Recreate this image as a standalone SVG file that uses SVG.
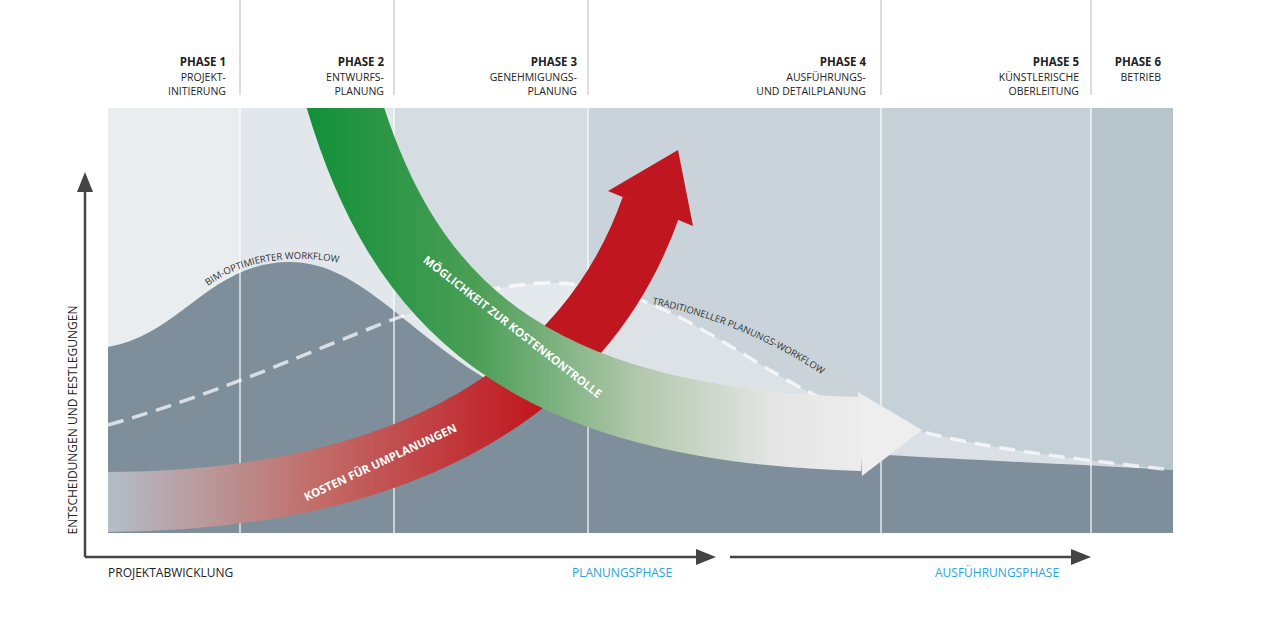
<svg xmlns="http://www.w3.org/2000/svg" width="1280" height="640" viewBox="0 0 1280 640">
<style>
text{font-family:"Open Sans","Liberation Sans",sans-serif;fill:#222}
.ph{font-size:11.5px;font-weight:bold;text-anchor:end}
.sub{font-size:10.5px;text-anchor:end}
.sm{font-size:9.5px;fill:#333}
.ax{font-size:12px}
.bl{font-size:12px;fill:#2aa4dc}
.wt{font-size:11.5px;font-weight:bold;fill:#fff}
.sep{stroke:#bbb;stroke-width:1}
.csep{stroke:#fff;stroke-width:1.5;opacity:.8}
.axis{stroke:#444;stroke-width:2.5;fill:none}
</style>
<defs>
<linearGradient id="gg" gradientUnits="userSpaceOnUse" x1="310" y1="0" x2="860" y2="0">
<stop offset="0" stop-color="#12903a"/><stop offset="0.3" stop-color="#4a9e55"/><stop offset="0.6" stop-color="#b3c8ad"/><stop offset="0.85" stop-color="#e6e6e6"/><stop offset="1" stop-color="#ececec"/></linearGradient>
<linearGradient id="rg" gradientUnits="userSpaceOnUse" x1="108" y1="0" x2="540" y2="0">
<stop offset="0" stop-color="#b3bec7"/><stop offset="0.5" stop-color="#c26a66"/><stop offset="1" stop-color="#c0161f"/></linearGradient>
<clipPath id="ch"><rect x="108" y="108" width="1065" height="425"/></clipPath>
<path id="bimp" d="M208,286 C240,262 290,252 345,264"/>
<path id="trp" d="M652,304 C720,318 780,345 830,380"/>
</defs>
<g id="headers">
<line class="sep" x1="240" y1="0" x2="240" y2="95"/><line class="sep" x1="394" y1="0" x2="394" y2="95"/><line class="sep" x1="588" y1="0" x2="588" y2="95"/><line class="sep" x1="881" y1="0" x2="881" y2="95"/><line class="sep" x1="1091" y1="0" x2="1091" y2="95"/>
<text class="ph" x="226" y="66">PHASE 1</text><text class="sub" x="226" y="81">PROJEKT-</text><text class="sub" x="226" y="95">INITIERUNG</text>
<text class="ph" x="384" y="66">PHASE 2</text><text class="sub" x="384" y="81">ENTWURFS-</text><text class="sub" x="384" y="95">PLANUNG</text>
<text class="ph" x="577" y="66">PHASE 3</text><text class="sub" x="577" y="81">GENEHMIGUNGS-</text><text class="sub" x="577" y="95">PLANUNG</text>
<text class="ph" x="866" y="66">PHASE 4</text><text class="sub" x="866" y="81">AUSFÜHRUNGS-</text><text class="sub" x="866" y="95">UND DETAILPLANUNG</text>
<text class="ph" x="1079" y="66">PHASE 5</text><text class="sub" x="1079" y="81">KÜNSTLERISCHE</text><text class="sub" x="1079" y="95">OBERLEITUNG</text>
<text class="ph" x="1161" y="66">PHASE 6</text><text class="sub" x="1161" y="81">BETRIEB</text>
</g>
<g id="chart">
<rect x="108" y="108" width="132" height="425" fill="#e9edf0"/>
<rect x="240" y="108" width="154" height="425" fill="#e2e7eb"/>
<rect x="394" y="108" width="194" height="425" fill="#d5dde2"/>
<rect x="588" y="108" width="293" height="425" fill="#c9d3d9"/>
<rect x="881" y="108" width="210" height="425" fill="#c6d0d7"/>
<rect x="1091" y="108" width="82" height="425" fill="#b7c4cc"/>
<path d="M108,425 C300,370 420,290 540,283 C680,278 760,390 881,420 C960,445 1040,455 1173,470 L1173,533 L108,533 Z" fill="#fff" opacity="0.35"/>
<path d="M108,347 C180,335 210,262 290,262 C380,262 430,380 588,423 C700,450 900,455 1173,470 L1173,533 L108,533 Z" fill="#7e8f9b"/>
<g class="csep"><line x1="240" y1="108" x2="240" y2="533"/><line x1="394" y1="108" x2="394" y2="533"/><line x1="588" y1="108" x2="588" y2="533"/><line x1="881" y1="108" x2="881" y2="533"/><line x1="1091" y1="108" x2="1091" y2="533"/></g>
<path d="M108,425 C300,370 420,290 540,283 C680,278 760,390 881,420 C960,445 1040,455 1173,470" fill="none" stroke="#fff" stroke-width="3.5" stroke-dasharray="16,9" opacity="0.7"/>
<text class="sm"><textPath href="#bimp">BIM-OPTIMIERTER WORKFLOW</textPath></text>
<text class="sm"><textPath href="#trp">TRADITIONELLER PLANUNGS-WORKFLOW</textPath></text>
</g>
<g id="arrows" clip-path="url(#ch)">
<path d="M100,502 C420,502 590,380 651,207" fill="none" stroke="url(#rg)" stroke-width="60"/>
<polygon points="608,191 678,150 693,226" fill="#c0161f"/>
<path d="M340,90 C400,300 520,425 862,434" fill="none" stroke="url(#gg)" stroke-width="74"/>
<polygon points="858,392 922,430 862,476" fill="#eeeeee"/>
</g>
<g id="labels">
<text class="wt" transform="translate(510,330) rotate(38)" text-anchor="middle">MÖGLICHKEIT ZUR KOSTENKONTROLLE</text>
<text class="wt" transform="translate(382,466) rotate(-25)" text-anchor="middle">KOSTEN FÜR UMPLANUNGEN</text>
</g>
<g id="axes">
<path class="axis" d="M85,557 L85,185 M85,557 L705,557 M730,557 L1080,557"/>
<polygon points="85,172 77,192 93,192" fill="#444"/>
<polygon points="716,557 696,549 696,565" fill="#444"/>
<polygon points="1091,557 1071,549 1071,565" fill="#444"/>
<text class="ax" transform="translate(77,420) rotate(-90)" text-anchor="middle">ENTSCHEIDUNGEN UND FESTLEGUNGEN</text>
<text class="ax" x="108" y="577">PROJEKTABWICKLUNG</text>
<text class="bl" x="572" y="577">PLANUNGSPHASE</text>
<text class="bl" x="935" y="577">AUSFÜHRUNGSPHASE</text>
</g>
</svg>
